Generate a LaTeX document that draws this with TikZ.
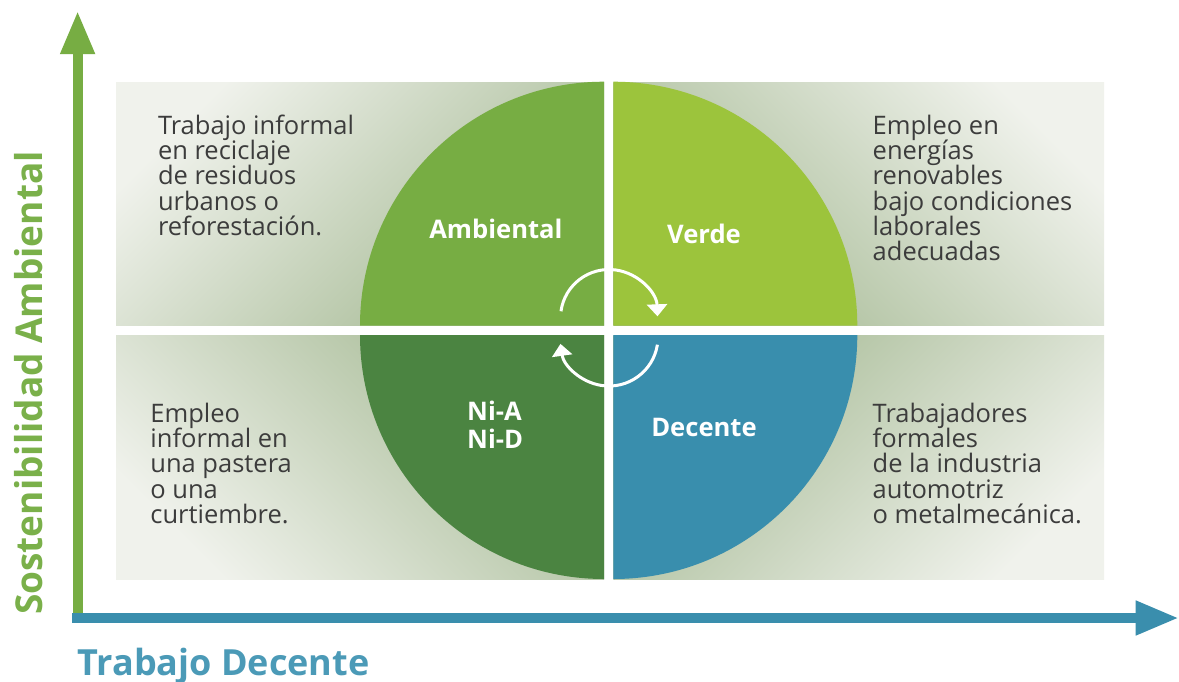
\documentclass[tikz,border=0pt]{standalone}
\usepackage{fontspec}
\setmainfont{Open Sans}
\usetikzlibrary{arrows.meta}
\definecolor{qtl}{HTML}{77AD43}
\definecolor{qtr}{HTML}{9CC43C}
\definecolor{qbl}{HTML}{4B8441}
\definecolor{qbr}{HTML}{398EAD}
\definecolor{axg}{HTML}{77AD43}
\definecolor{axb}{HTML}{3A8EAD}
\definecolor{labg}{HTML}{7AB04A}
\definecolor{labb}{HTML}{4B9AB7}
\definecolor{txt}{HTML}{3C3C3C}
\definecolor{plight}{HTML}{F0F2EC}
\definecolor{pdark}{HTML}{A3B891}
\lineskiplimit=-30pt
\begin{document}
\begin{tikzpicture}[x=1pt,y=-1pt,
  body/.style={anchor=base west, align=left, inner sep=0pt, text=txt, font=\fontsize{25.5}{25.25}\selectfont},
  qlabel/.style={anchor=base, align=center, inner sep=0pt, text=white, font=\fontsize{25.6}{27.6}\selectfont\bfseries},
  panel/.style={top color=plight, bottom color=pdark},
  cyc/.style={draw=white, line width=3pt, -{Triangle[length=12pt,width=20pt]}},
  axis/.style={line width=10.2pt, -{Triangle[length=43.3pt,width=32pt]}},
  axlabel/.style={inner sep=0pt, font=\fontsize{36}{36}\selectfont\bfseries},
]
\useasboundingbox (0,0) rectangle (1179,681);
\fill[white] (0,0) rectangle (1179,681);
% panels
\shade[panel, shading angle=45] (116,82) rectangle (604,325.7);
\shade[panel, shading angle=-45] (613.3,82) rectangle (1104,325.7);
\shade[panel, shading angle=135] (116,335) rectangle (604,579.3);
\shade[panel, shading angle=-135] (613.3,335) rectangle (1104,579.3);
% quadrants
\fill[qtl] (604,325.7) -- (360,325.7) arc[start angle=180,end angle=270,radius=244] -- cycle;
\fill[qtr] (613.3,325.7) -- (613.3,81.7) arc[start angle=270,end angle=360,radius=244] -- cycle;
\fill[qbr] (613.3,335) -- (857.3,335) arc[start angle=0,end angle=90,radius=244] -- cycle;
\fill[qbl] (604,335) -- (604,579) arc[start angle=90,end angle=180,radius=244] -- cycle;
% cycle arrows
\coordinate (c1s) at (560.97,311.25);
\coordinate (c2s) at (657.4,344.7);
\draw[cyc] (c1s) arc[start angle=188,end angle=358,radius=48.5];
\draw[cyc] (c2s) arc[start angle=9,end angle=172,radius=49];
% axes
\coordinate (yb) at (77.6,613);
\coordinate (yt) at (77.6,10.7);
\coordinate (xb) at (72.3,618);
\coordinate (xt) at (1179,618);
\draw[axis, axg] (yb) -- (yt);
\draw[axis, axb] (xb) -- (xt);
% quadrant labels
\node[qlabel] (amb) at (495.9,238.3) {Ambiental};
\node[qlabel] (ver) at (704,243) {Verde};
\node[qlabel, anchor=base west, align=left] (nin) at (467,448.3) {Ni-A\\Ni-D};
\node[qlabel] (dec) at (704,436.7) {Decente};
% texts (base anchor = baseline of last line)
\node[body] (ttl) at (157.8,235.3) {Trabajo informal\\en reciclaje\\de residuos\\urbanos o\\reforestación.};
\node[body] (ttr) at (872.5,260.5) {Empleo en\\energías\\renovables\\bajo condiciones\\laborales\\adecuadas};
\node[body] (tbl) at (150.2,523.3) {Empleo\\informal en\\una pastera\\o una\\curtiembre.};
\node[body] (tbr) at (872.5,523.3) {Trabajadores\\formales\\de la industria\\automotriz\\o metalmecánica.};
% axis labels
\node[axlabel, text=labg, anchor=base, rotate=90, font=\fontsize{37}{37}\selectfont\bfseries] (ylab) at (42.7,383) {Sostenibilidad Ambiental};
\node[axlabel, text=labb, anchor=base west] (xlab) at (77.5,675) {Trabajo Decente};
\end{tikzpicture}
\end{document}
